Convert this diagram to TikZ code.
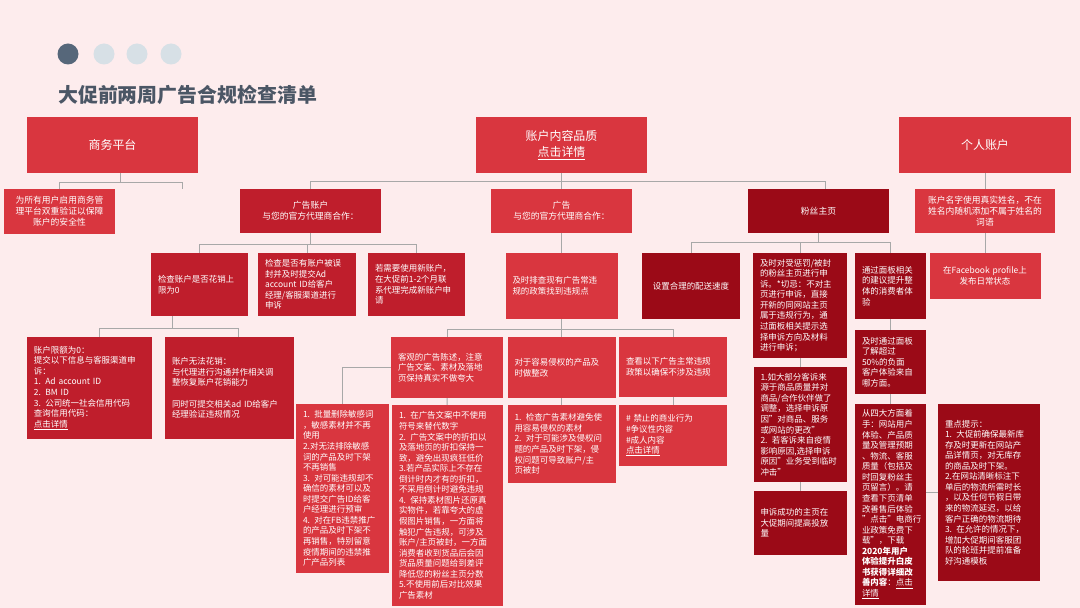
\documentclass[tikz,border=0pt]{standalone}
\usepackage{fontspec}
\setmainfont{Noto Sans CJK SC}
\definecolor{bgpink}{HTML}{FDECED}
\definecolor{redA}{HTML}{D9363F}
\definecolor{redB}{HTML}{BF1E2C}
\definecolor{redC}{HTML}{9B0A17}
\definecolor{linegray}{HTML}{A8A8A8}
\definecolor{titlegray}{HTML}{4B5665}
\definecolor{dotdark}{HTML}{56677A}
\definecolor{dotlight}{HTML}{D7E0E6}
\begin{document}
\begin{tikzpicture}[x=1bp,y=-1bp,
    link/.style={draw=linegray, line width=0.8bp},
    cell/.style n args={3}{rectangle, inner sep=0pt, text=white, minimum width=#1bp,
      minimum height=#2bp, text width=#3bp, align=left, font=\fontsize{8.5}{10.6}\selectfont},
    big/.style={align=center, font=\fontsize{12}{16}\selectfont},
    mid/.style={align=center, font=\fontsize{8.8}{11}\selectfont}]
    \fill[bgpink] (0,0) rectangle (1080,608);

    % header
    \fill[dotdark] (68,54) circle[radius=10.5bp];
    \foreach \x in {104,137,171} \fill[dotlight] (\x,54) circle[radius=10.5bp];
    \node[anchor=west, inner sep=0pt, text=titlegray, font=\bfseries\fontsize{20}{24}\selectfont] (title) at (58,95) {大促前两周广告合规检查清单};

    % top level
    \node[cell={171}{56}{157}, big, fill=redA] (biz) at (112.5,145) {商务平台};
    \node[cell={171}{56}{157}, big, fill=redA] (content) at (561.5,145) {账户内容品质\\\underline{点击详情}};
    \node[cell={172}{56}{158}, big, fill=redA] (personal) at (985,145) {个人账户};

    % second level
    \node[cell={111}{45}{103}, mid, fill=redA] (bizsafe) at (59.5,211.5) {为所有用户启用商务管\\理平台双重验证以保障\\账户的安全性};
    \node[cell={141}{44}{127}, mid, fill=redB] (adacct) at (310.5,211) {广告账户\\与您的官方代理商合作：};
    \node[cell={141}{44}{127}, mid, fill=redA] (ad) at (561.5,211) {广告\\与您的官方代理商合作：};
    \node[cell={141}{44}{127}, mid, fill=redC] (fanpage) at (818.5,211) {粉丝主页};
    \node[cell={140}{44}{130}, mid, fill=redA] (realname) at (985,211) {账户名字使用真实姓名，不在\\姓名内随机添加不属于姓名的\\词语};

    % third level
    \node[cell={97}{63}{83}, fill=redB] (limit) at (199.5,284.5) {检查账户是否花销上\\限为0};
    \node[cell={98}{63}{84}, fill=redB] (appeal) at (307,284.5) {检查是否有账户被误\\封并及时提交Ad\\account ID给客户\\经理/客服渠道进行\\申诉};
    \node[cell={97}{63}{83}, fill=redB] (newacct) at (416.5,284.5) {若需要使用新账户，\\在大促前1-2个月联\\系代理完成新账户申\\请};
    \node[cell={112}{66}{98}, fill=redA] (scan) at (561.5,286) {及时排查现有广告常违\\规的政策找到违规点};
    \node[cell={98}{66}{84}, align=center, fill=redC] (speed) at (691,286) {设置合理的配送速度};
    \node[cell={94}{105}{80}, fill=redC] (fanappeal) at (800,305.5) {及时对受惩罚/被封\\的粉丝主页进行申\\诉。*切忌：不对主\\页进行申诉，直接\\开新的同网站主页\\属于违规行为，通\\过面板相关提示选\\择申诉方向及材料\\进行申诉；};
    \node[cell={71}{66}{57}, fill=redC] (panel) at (890.5,286) {通过面板相关\\的建议提升整\\体的消费者体\\验};
    \node[cell={111}{46}{97}, align=center, fill=redA] (fbpost) at (985,276) {在Facebook profile上\\发布日常状态};

    % fourth level
    \node[cell={125}{102}{111}, fill=redB] (limit0) at (89.5,388) {账户限额为0：\\提交以下信息与客服渠道申\\诉：\\1. Ad account ID\\2. BM ID\\3. 公司统一社会信用代码\\查询信用代码：\\\underline{点击详情}};
    \node[cell={129}{102}{115}, fill=redB] (nospend) at (229.5,388) {账户无法花销：\\与代理进行沟通并作相关调\\整恢复账户花销能力\\[10.6bp]同时可提交相关ad ID给客户\\经理验证违规情况};
    \node[cell={112}{61}{98}, fill=redA] (honest) at (447,367.5) {客观的广告陈述，注意\\广告文案、素材及落地\\页保持真实不做夸大};
    \node[cell={108}{61}{94}, fill=redA] (infringe) at (561.5,367.5) {对于容易侵权的产品及\\时做整改};
    \node[cell={108}{60}{94}, fill=redA] (policy) at (673,367) {查看以下广告主常违规\\政策以确保不涉及违规};
    \node[cell={93}{115}{79}, fill=redC] (complain) at (800,424.5) {1.如大部分客诉来\\源于商品质量并对\\商品/合作伙伴做了\\调整，选择申诉原\\因"对商品、服务\\或网站的更改"\\2. 若客诉来自疫情\\影响原因,选择申诉\\原因"业务受到临时\\冲击"};
    \node[cell={93}{64}{79}, fill=redC] (success) at (800,523) {申诉成功的主页在\\大促期间提高投放\\量};
    \node[cell={71}{64}{57}, fill=redC] (negative) at (890.5,362) {及时通过面板\\了解超过\\50\%的负面\\客户体验来自\\哪方面。};

    % fifth level
    \node[cell={93}{169}{79}, fill=redA] (sensitive) at (342.5,488.5) {1. 批量删除敏感词\\，敏感素材并不再\\使用\\2.对无法排除敏感\\词的产品及时下架\\不再销售\\3. 对可能违规却不\\确信的素材可以及\\时提交广告ID给客\\户经理进行预审\\4. 对在FB违禁推广\\的产品及时下架不\\再销售，特别留意\\疫情期间的违禁推\\广产品列表};
    \node[cell={111}{201}{97}, fill=redA] (copy) at (447.5,505.5) {1. 在广告文案中不使用\\符号来替代数字\\2. 广告文案中的折扣以\\及落地页的折扣保持一\\致，避免出现疯狂低价\\3.若产品实际上不存在\\倒计时内才有的折扣，\\不采用倒计时避免违规\\4. 保持素材图片还原真\\实物件，若靠夸大的虚\\假图片销售，一方面将\\触犯广告违规，可涉及\\账户/主页被封，一方面\\消费者收到货品后会因\\货品质量问题给到差评\\降低您的粉丝主页分数\\5.不使用前后对比效果\\广告素材};
    \node[cell={108}{78}{94}, fill=redA] (material) at (561.5,444) {1. 检查广告素材避免使\\用容易侵权的素材\\2. 对于可能涉及侵权问\\题的产品及时下架，侵\\权问题可导致账户/主\\页被封};
    \node[cell={108}{61}{94}, fill=redA] (banned) at (673,435.5) {\# 禁止的商业行为\\\#争议性内容\\\#成人内容\\\underline{点击详情}};
    \node[cell={71}{201}{57}, fill=redC] (fourway) at (890.5,504.5) {从四大方面着\\手：网站用户\\体验、产品质\\量及管理预期\\、物流、客服\\质量（包括及\\时回复粉丝主\\页留言）。请\\查看下页清单\\改善售后体验\\"点击"电商行\\业政策免费下\\载"，下载\\\textbf{2020年用户}\\\textbf{体验提升白皮}\\\textbf{书获得详细改}\\\textbf{善内容}：\underline{点击}\\\underline{详情}};
    \node[cell={102}{177}{88}, fill=redC] (tips) at (989,492.5) {重点提示：\\1. 大促前确保最新库\\存及时更新在网站产\\品详情页，对无库存\\的商品及时下架。\\2.在网站清晰标注下\\单后的物流所需时长\\，以及任何节假日带\\来的物流延迟，以给\\客户正确的物流期待\\3. 在允许的情况下，\\增加大促期间客服团\\队的轮班并提前准备\\好沟通模板};

    % connectors
    \coordinate (bizend) at (182,189);
    \draw[link] ([xshift=7.5bp]biz.south) -- ++(0,9) -| (bizsafe.north);
    \draw[link] ([xshift=7.5bp]biz.south) -- ++(0,9) -| (bizend);
    \foreach \n in {adacct,ad} \draw[link] (content.south) -- ++(0,8) -| (\n.north);
    \draw[link] (content.south) -- ++(0,8) -| ([xshift=6.5bp]fanpage.north);
    \draw[link] (personal) -- (realname);
    \draw[link] (realname) -- (fbpost);
    \foreach \n in {limit,appeal,newacct} \draw[link] (adacct.south) -- ++(0,11) -| (\n.north);
    \draw[link] (ad) -- (scan);
    \foreach \n in {speed,fanappeal,panel} \draw[link] (fanpage.south) -- ++(0,9) -| (\n.north);
    \draw[link] ([xshift=-27.5bp]limit.south) -- ++(0,12) -| ([xshift=9.5bp]limit0.north);
    \draw[link] ([xshift=-27.5bp]limit.south) -- ++(0,12) -| ([xshift=8.5bp]nospend.north);
    \foreach \n in {honest,infringe,policy} \draw[link] (scan.south) -- ++(0,10) -| (\n.north);
    \draw[link] (honest.west) -| (sensitive.north);
    \draw[link] (honest) -- (copy);
    \draw[link] (infringe) -- (material);
    \draw[link] (policy) -- (banned);
    \draw[link] (fanappeal) -- (complain);
    \draw[link] (complain) -- (success);
    \draw[link] (panel) -- (negative);
    \draw[link] (negative) -- (fourway);
    \draw[link] (tips.west) -- (tips.west -| fourway.east);
\end{tikzpicture}
\end{document}
